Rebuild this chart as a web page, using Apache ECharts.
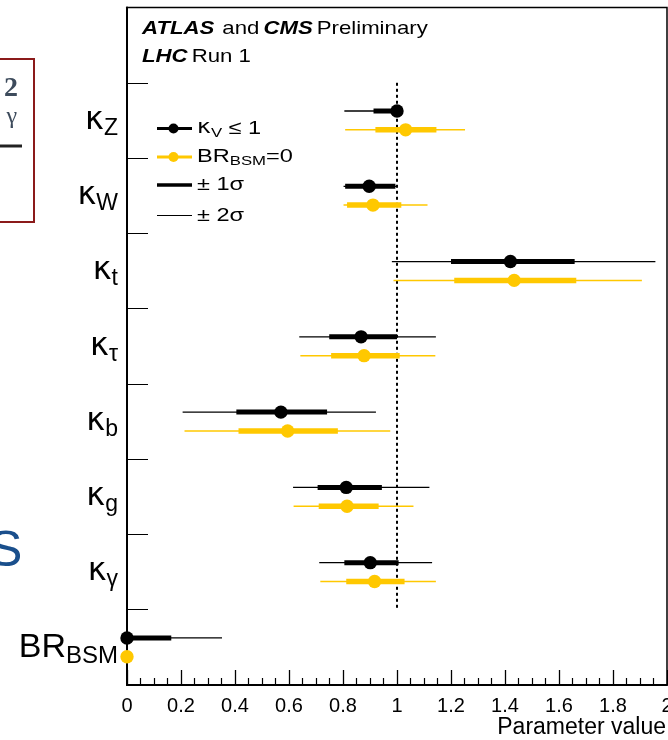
<!DOCTYPE html>
<html><head><meta charset="utf-8">
<script src="https://cdn.jsdelivr.net/npm/echarts@6/dist/echarts.min.js"></script>
<style>html,body{margin:0;padding:0;background:#fff;overflow:hidden}#c{width:668px;height:740px}</style>
</head><body><div id="c"></div>
<script>
// ---- data ----
const categories = ['κZ', 'κW', 'κt', 'κτ', 'κb', 'κg', 'κγ', 'BR_BSM'];

// fit with kappa_V <= 1 (black)
const blackCentral = [1.000, 0.897, 1.420, 0.867, 0.570, 0.812, 0.901, 0.000];
const blackLo1     = [0.913, 0.808, 1.200, 0.749, 0.405, 0.706, 0.805, 0.000];
const blackHi1     = [1.000, 0.994, 1.658, 1.000, 0.741, 0.944, 1.006, 0.164];
const blackLo2     = [0.805, 0.802, 0.981, 0.638, 0.206, 0.615, 0.712, 0.000];
const blackHi2     = [1.000, 1.000, 1.957, 1.144, 0.922, 1.120, 1.130, 0.352];

// fit with BR_BSM = 0 (yellow)
const yellowCentral = [1.032, 0.911, 1.434, 0.878, 0.595, 0.815, 0.917, 0.000];
const yellowLo1     = [0.920, 0.815, 1.212, 0.756, 0.413, 0.710, 0.812, null];
const yellowHi1     = [1.146, 1.016, 1.664, 1.010, 0.781, 0.932, 1.028, null];
const yellowLo2     = [0.808, 0.802, 0.987, 0.642, 0.213, 0.617, 0.716, null];
const yellowHi2     = [1.252, 1.113, 1.907, 1.142, 0.975, 1.061, 1.144, null];

const referenceValue = 1; // SM expectation (dashed line)
const xTickLabels = ['0', '0.2', '0.4', '0.6', '0.8', '1', '1.2', '1.4', '1.6', '1.8', '2'];
const xAxisTitle = 'Parameter value';
const headerLines = ['{bi|ATLAS}  {r|and} {bi|CMS} {r|Preliminary}', '{bi|LHC} {r|Run 1}'];
const legendLabels = ['{k|κ}{s|V}{t| ≤ 1}', '{t|BR}{s|BSM}{t|=0}', '{t|± 1σ}', '{t|± 2σ}'];

const BLACK = '#000000';
const YELLOW = '#FFC800';

function rows(central, lo1, hi1, lo2, hi2) {
  return categories.map((c, i) => [i + 1, central[i], lo1[i], hi1[i], lo2[i], hi2[i]]);
}

function makeRender(color, sign, thin, thick, r) {
  return function (params, api) {
    const yi = api.value(0);
    const band = api.size([0, 1])[1];
    const c = api.coord([api.value(1), yi]);
    const y = c[1] + sign * band * 0.125;
    const lo1 = api.value(2), hi1 = api.value(3), lo2 = api.value(4), hi2 = api.value(5);
    const ch = [];
    if (isFinite(lo2) && isFinite(hi2)) {
      ch.push({ type: 'line', shape: { x1: api.coord([lo2, yi])[0], y1: y, x2: api.coord([hi2, yi])[0], y2: y },
        style: { stroke: color, lineWidth: thin } });
    }
    if (isFinite(lo1) && isFinite(hi1)) {
      ch.push({ type: 'line', shape: { x1: api.coord([lo1, yi])[0], y1: y, x2: api.coord([hi1, yi])[0], y2: y },
        style: { stroke: color, lineWidth: thick } });
    }
    ch.push({ type: 'circle', shape: { cx: c[0], cy: y, r: r }, style: { fill: color } });
    return { type: 'group', children: ch };
  };
}

const chart = echarts.init(document.getElementById('c'), null, { renderer: 'canvas' });

const labelRich = {
  k: { fontSize: 32, fontFamily: 'DejaVu Sans', color: '#000' },
  s: { fontSize: 23, fontFamily: 'Liberation Sans', color: '#000', padding: [16, 0, 0, 0] },
  b: { fontSize: 34, fontFamily: 'Liberation Sans', color: '#000' },
  bs: { fontSize: 24, fontFamily: 'Liberation Sans', color: '#000', padding: [18, 0, 0, 0] }
};

const legendRich = {
  k: { fontSize: 19, fontFamily: 'DejaVu Sans', color: '#000' },
  s: { fontSize: 13.5, fontFamily: 'Liberation Sans', color: '#000', padding: [9, 0, 0, 0] },
  t: { fontSize: 19, fontFamily: 'Liberation Sans', color: '#000' }
};

const headRich = {
  bi: { fontSize: 18.5, fontWeight: 'bold', fontStyle: 'italic', fontFamily: 'Liberation Sans', color: '#000' },
  r: { fontSize: 18.5, fontWeight: 'normal', fontStyle: 'normal', fontFamily: 'Liberation Sans', color: '#000' }
};

const legendRows = [128.5, 157, 185, 215.5];
const LEG_SX = 1.24;

const option = {
  animation: false,
  backgroundColor: '#fff',
  grid: { left: 127, right: 1, top: 7.5, bottom: 55, show: true, borderColor: '#000', borderWidth: 1.5,
    backgroundColor: 'transparent', containLabel: false, outerBoundsMode: 'none' },
  xAxis: {
    type: 'value', min: 0, max: 2, interval: 0.2,
    splitLine: { show: false },
    axisLine: { show: true, lineStyle: { color: '#000', width: 2 } },
    axisTick: { show: true, inside: true, length: 15, lineStyle: { color: '#000', width: 1.3 } },
    minorTick: { show: true, splitNumber: 4, length: 7, lineStyle: { color: '#000', width: 1.2 } },
    axisLabel: { fontSize: 20, fontFamily: 'Liberation Sans', color: '#000', margin: 11,
      formatter: (v) => xTickLabels[Math.round(v / 0.2)] }
  },
  yAxis: {
    type: 'category', inverse: true, data: [''].concat(categories),
    axisLine: { show: true, lineStyle: { color: '#000', width: 2 } },
    axisTick: { show: true, inside: true, length: 21, lineStyle: { color: '#000', width: 1 } },
    splitLine: { show: false },
    axisLabel: { margin: 9, formatter: (v) => {
      if (v === '') return '';
      if (v.indexOf('BR_') === 0) return '{b|BR}{bs|' + v.slice(3) + '}';
      return '{k|' + v.charAt(0) + '}{s|' + v.slice(1) + '}';
    }, rich: labelRich }
  },
  series: [
    {
      type: 'custom', name: 'SM', z: 1, clip: false, silent: true,
      data: [[referenceValue]],
      renderItem: (params, api) => {
        const band = api.size([0, 1])[1];
        const top = api.coord([api.value(0), 1]);
        const bot = api.coord([api.value(0), categories.length - 1]);
        return { type: 'line', shape: { x1: top[0], y1: top[1] - band / 2, x2: bot[0], y2: bot[1] + band / 2 },
          style: { stroke: '#000', lineWidth: 2, lineDash: [3, 3] } };
      }
    },
    {
      type: 'custom', name: 'kV<=1', z: 3, clip: false,
      encode: { x: 1, y: 0 },
      data: rows(blackCentral, blackLo1, blackHi1, blackLo2, blackHi2),
      renderItem: makeRender(BLACK, -1, 1.3, 5, 6.7)
    },
    {
      type: 'custom', name: 'BRBSM=0', z: 2, clip: false,
      encode: { x: 1, y: 0 },
      data: rows(yellowCentral, yellowLo1, yellowHi1, yellowLo2, yellowHi2),
      renderItem: makeRender(YELLOW, 1, 1.5, 5.5, 6.7)
    }
  ],
  graphic: [
    // header
    { type: 'text', x: 142, y: 29, scaleX: 1.2, style: { text: headerLines[0], rich: headRich, verticalAlign: 'middle' } },
    { type: 'text', x: 142, y: 56.5, scaleX: 1.2, style: { text: headerLines[1], rich: headRich, verticalAlign: 'middle' } },
    // x-axis title
    { type: 'text', x: 666, y: 728, style: { text: xAxisTitle, font: '23px "Liberation Sans"', fill: '#000', align: 'right', verticalAlign: 'middle' } },
    // legend
    { type: 'line', shape: { x1: 157, y1: legendRows[0], x2: 192, y2: legendRows[0] }, style: { stroke: BLACK, lineWidth: 3 } },
    { type: 'circle', shape: { cx: 173.5, cy: legendRows[0], r: 5 }, style: { fill: BLACK } },
    { type: 'text', x: 197, y: legendRows[0], scaleX: LEG_SX, style: { text: legendLabels[0], rich: legendRich, verticalAlign: 'middle' } },
    { type: 'line', shape: { x1: 157, y1: legendRows[1], x2: 192, y2: legendRows[1] }, style: { stroke: YELLOW, lineWidth: 3 } },
    { type: 'circle', shape: { cx: 173.5, cy: legendRows[1], r: 5 }, style: { fill: YELLOW } },
    { type: 'text', x: 197, y: legendRows[1], scaleX: LEG_SX, style: { text: legendLabels[1], rich: legendRich, verticalAlign: 'middle' } },
    { type: 'line', shape: { x1: 157, y1: legendRows[2], x2: 192, y2: legendRows[2] }, style: { stroke: BLACK, lineWidth: 3.5 } },
    { type: 'text', x: 197, y: legendRows[2], scaleX: LEG_SX, style: { text: legendLabels[2], rich: legendRich, verticalAlign: 'middle' } },
    { type: 'line', shape: { x1: 157, y1: legendRows[3], x2: 192, y2: legendRows[3] }, style: { stroke: BLACK, lineWidth: 1 } },
    { type: 'text', x: 197, y: legendRows[3], scaleX: LEG_SX, style: { text: legendLabels[3], rich: legendRich, verticalAlign: 'middle' } },
    // fragments of the surrounding slide
    { type: 'rect', shape: { x: -10, y: 59, width: 44, height: 163 }, style: { fill: 'none', stroke: '#8B1A1A', lineWidth: 2 } },
    { type: 'text', x: 18, y: 89, style: { text: '2', font: 'bold 28px "Liberation Serif"', fill: '#3d4b5c', align: 'right', verticalAlign: 'middle' } },
    { type: 'text', x: 17, y: 117, style: { text: 'γ', font: '24px "Liberation Serif"', fill: '#3d4b5c', align: 'right', verticalAlign: 'middle' } },
    { type: 'line', shape: { x1: 0, y1: 146, x2: 22, y2: 146 }, style: { stroke: '#222', lineWidth: 3 } },
    { type: 'text', x: -11, y: 552, style: { text: 'S', font: '50px "Liberation Sans"', fill: '#1A4F8C', align: 'left', verticalAlign: 'middle' } }
  ]
};
chart.setOption(option);
</script>
</body></html>
